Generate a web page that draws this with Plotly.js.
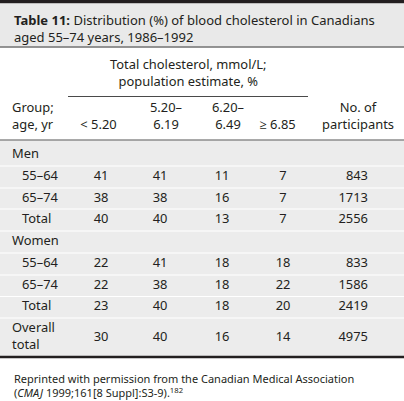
<!DOCTYPE html>
<html>
<head>
<meta charset="utf-8">
<script src="https://cdn.plot.ly/plotly-3.0.1.min.js"></script>
<style>
  html, body { margin: 0; padding: 0; background: #ffffff; }
  #chart { width: 404px; height: 401px; }
</style>
</head>
<body>
<div id="chart"></div>
<script>
const groupLabels = ['Men', '55–64', '65–74', 'Total', 'Women', '55–64', '65–74', 'Total', 'Overall<br>total'];
const groupIndent = [0, 1, 1, 1, 0, 1, 1, 1, 0];
const pctBelow520 = [null, 41, 38, 40, null, 22, 22, 23, 30];
const pct520to619 = [null, 41, 38, 40, null, 41, 38, 40, 40];
const pct620to649 = [null, 11, 16, 13, null, 18, 18, 18, 16];
const pct685plus  = [null, 7, 7, 7, null, 18, 22, 20, 14];
const participants = [null, 843, 1713, 2556, null, 833, 1586, 2419, 4975];
const columnHeaders = ['Group;<br>age, yr', '< 5.20', '5.20–<br>6.19', '6.20–<br>6.49', '≥ 6.85', 'No. of<br>participants'];
const spannerHeader = 'Total cholesterol, mmol/L;<br>population estimate, %';
const titleText = '<b>Table 11:</b> Distribution (%) of blood cholesterol in Canadians<br>aged 55–74 years, 1986–1992';
const footnoteText = 'Reprinted with permission from the Canadian Medical Association<br>(<i>CMAJ</i> 1999;161[8 Suppl]:S3-9).<sup>182</sup>';

// ---- layout geometry (pixel space, not data) ----
const W = 404, H = 401;
const rowMid = [155, 177, 198.5, 219.5, 242, 263.5, 286, 307, 337.5];
const rowSep = [166, 188, 209, 231, 253, 275, 296.5, 318];
const bodyTop = 140, bodyBottom = 356;
const dataColX = [101, 160, 222, 283, 368];      // centres (last = right edge)
const headColX = [12, 98.5, 166, 228, 277.5, 358];
const headBottomY = 126;
const FONT = 'Noto Sans, Open Sans, sans-serif';
const TXT = '#231f20';
const FS = 12.9;
const LH = 1.3;  // Plotly line height (em)

const cells = { left: { x: [], y: [], t: [] }, center: { x: [], y: [], t: [] }, right: { x: [], y: [], t: [] } };
function addCell(align, x, y, text) {
  cells[align].x.push(x); cells[align].y.push(y); cells[align].t.push(String(text));
}
const nLines = s => String(s).split('<br>').length;

groupLabels.forEach((g, i) => addCell('left', 12 + (groupIndent[i] ? 10 : 0), rowMid[i], g));
[pctBelow520, pct520to619, pct620to649, pct685plus].forEach((series, c) => {
  series.forEach((v, i) => { if (v !== null) addCell('center', dataColX[c], rowMid[i], v); });
});
participants.forEach((v, i) => { if (v !== null) addCell('right', dataColX[4], rowMid[i], v); });
columnHeaders.forEach((h, c) => addCell(c === 0 ? 'left' : 'center', headColX[c],
  headBottomY - (nLines(h) - 1) * LH * FS / 2, h));

const posFor = { left: 'middle right', center: 'middle center', right: 'middle left' };
const traces = Object.keys(cells).map(a => ({
  type: 'scatter', mode: 'text', x: cells[a].x, y: cells[a].y, text: cells[a].t,
  textposition: posFor[a], textfont: { family: FONT, size: FS, color: TXT },
  hoverinfo: 'skip', showlegend: false, cliponaxis: false
}));

const shapes = [];
shapes.push({ type: 'rect', x0: 0, x1: W, y0: 0, y1: 3.5, fillcolor: '#231f20', line: { width: 0 }, layer: 'below' });
shapes.push({ type: 'rect', x0: 0, x1: W, y0: 3.5, y1: 46.5, fillcolor: '#e9e9e9', line: { width: 0 }, layer: 'below' });
shapes.push({ type: 'line', x0: 0, x1: W, y0: 47, y1: 47, line: { color: '#707070', width: 1.5 } });
shapes.push({ type: 'line', x0: 68, x1: 308, y0: 96.5, y1: 96.5, line: { color: '#4a4a4a', width: 1 } });
shapes.push({ type: 'rect', x0: 0, x1: W, y0: bodyTop, y1: bodyBottom, fillcolor: '#ececec', line: { width: 0 }, layer: 'below' });
shapes.push({ type: 'line', x0: 0, x1: W, y0: bodyTop, y1: bodyTop, line: { color: '#8c8c8c', width: 1.5 } });
rowSep.forEach(y => shapes.push({ type: 'line', x0: 0, x1: W, y0: y, y1: y, line: { color: '#ffffff', width: 1.2 } }));
shapes.push({ type: 'line', x0: 0, x1: W, y0: 357, y1: 357, line: { color: '#231f20', width: 2.5 } });
shapes.forEach(s => { s.xref = 'x'; s.yref = 'y'; });

const annotations = [
  { x: 12, y: 28.9, text: titleText, xanchor: 'left', size: 13 },
  { x: 188, y: 72.5, text: spannerHeader, xanchor: 'center', size: FS },
  { x: 12, y: 385.5, text: footnoteText, xanchor: 'left', size: 11 }
];
annotations.forEach(a => {
  a.xref = 'x'; a.yref = 'y'; a.showarrow = false; a.yanchor = 'middle'; a.align = a.xanchor === 'center' ? 'center' : 'left';
  a.font = { family: FONT, size: a.size, color: TXT }; delete a.size;
});

const layout = {
  width: W, height: H,
  margin: { l: 0, r: 0, t: 0, b: 0, pad: 0 },
  paper_bgcolor: '#ffffff', plot_bgcolor: '#ffffff',
  xaxis: { range: [0, W], visible: false, fixedrange: true },
  yaxis: { range: [H, 0], visible: false, fixedrange: true },
  shapes: shapes, annotations: annotations, showlegend: false
};

Plotly.newPlot('chart', traces, layout, { staticPlot: true, displayModeBar: false }).then(gd => {
  // drop empty placeholder text nodes that Plotly leaves behind
  gd.querySelectorAll('text').forEach(t => { if (!t.textContent.trim()) t.remove(); });
});
</script>
</body>
</html>
